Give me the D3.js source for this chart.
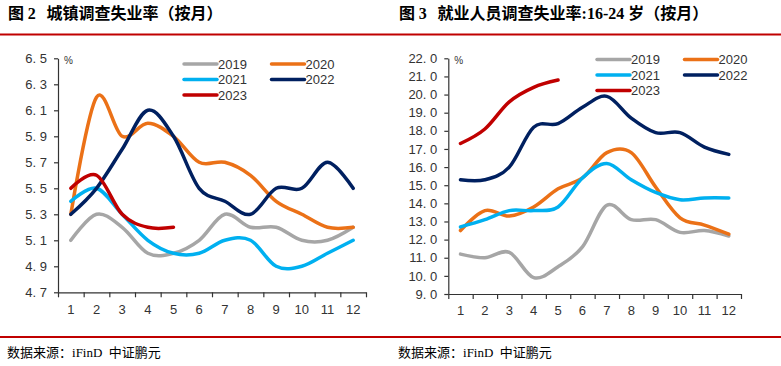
<!DOCTYPE html>
<html>
<head>
<meta charset="utf-8">
<script src="https://cdn.jsdelivr.net/npm/d3@7"></script>
<style>
  body { margin: 0; background: #fff; }
  svg { display: block; font-family: "Liberation Sans", Arial, sans-serif; }
  .pre { white-space: pre; }
</style>
</head>
<body>
<svg id="chart" width="781" height="366"></svg>
<script>
// months
const months = [1, 2, 3, 4, 5, 6, 7, 8, 9, 10, 11, 12];
const years = ["2019", "2020", "2021", "2022", "2023"];
const colors = ["#A6A6A6", "#EB7117", "#00B0F0", "#002060", "#C00000"];

// 图2 城镇调查失业率
const urban2019 = [5.1, 5.3, 5.2, 5.0, 5.0, 5.1, 5.3, 5.2, 5.2, 5.1, 5.1, 5.2];
const urban2020 = [5.3, 6.2, 5.9, 6.0, 5.9, 5.7, 5.7, 5.6, 5.4, 5.3, 5.2, 5.2];
const urban2021 = [5.4, 5.5, 5.3, 5.1, 5.0, 5.0, 5.1, 5.1, 4.9, 4.9, 5.0, 5.1];
const urban2022 = [5.3, 5.5, 5.8, 6.1, 5.9, 5.5, 5.4, 5.3, 5.5, 5.5, 5.7, 5.5];
const urban2023 = [5.5, 5.6, 5.3, 5.2, 5.2];
const urbanTicks = [4.7, 4.9, 5.1, 5.3, 5.5, 5.7, 5.9, 6.1, 6.3, 6.5];

// 图3 16-24岁
const youth2019 = [11.2, 11.0, 11.3, 9.9, 10.5, 11.6, 13.9, 13.1, 13.1, 12.4, 12.5, 12.2];
const youth2020 = [12.5, 13.6, 13.3, 13.8, 14.8, 15.4, 16.8, 16.8, 14.9, 13.2, 12.8, 12.3];
const youth2021 = [12.7, 13.1, 13.6, 13.6, 13.8, 15.4, 16.2, 15.3, 14.6, 14.2, 14.3, 14.3];
const youth2022 = [15.3, 15.3, 16.0, 18.2, 18.4, 19.3, 19.9, 18.7, 17.9, 17.9, 17.1, 16.7];
const youth2023 = [17.3, 18.1, 19.6, 20.4, 20.8];
const youthTicks = [9, 10, 11, 12, 13, 14, 15, 16, 17, 18, 19, 20, 21, 22];

const svg = d3.select("#chart");

// red rules + titles
svg.append("line").attr("x1", 0).attr("x2", 781).attr("y1", 34.5).attr("y2", 34.5)
  .attr("stroke", "#C00000").attr("stroke-width", 2);
svg.append("line").attr("x1", 0).attr("x2", 781).attr("y1", 337).attr("y2", 337)
  .attr("stroke", "#C00000").attr("stroke-width", 2);

const addTitle = (x, parts) => {
  const t = svg.append("text").attr("class", "pre").attr("x", x).attr("y", 19)
    .attr("font-size", "16px").attr("font-weight", "bold").attr("fill", "#000");
  parts.forEach(p => {
    t.append("tspan")
      .attr("font-family", p.serif ? "'Liberation Serif', 'Times New Roman', serif" : "'Noto Sans CJK SC', sans-serif")
      .text(p.text);
  });
};
addTitle(8, [{ text: "图 " }, { text: "2", serif: true }, { text: "   城镇调查失业率（按月）" }]);
addTitle(399, [{ text: "图 " }, { text: "3", serif: true }, { text: "   就业人员调查失业率" },
  { text: ":16-24 ", serif: true }, { text: "岁（按月）" }]);

const addSource = x => {
  const t = svg.append("text").attr("class", "pre").attr("x", x).attr("y", 357)
    .attr("font-size", "13px").attr("fill", "#000");
  t.append("tspan").attr("font-family", "'Noto Sans CJK SC', sans-serif").text("数据来源：");
  t.append("tspan").attr("font-family", "'Liberation Serif', serif").text("iFinD  ");
  t.append("tspan").attr("font-family", "'Noto Sans CJK SC', sans-serif").text("中证鹏元");
};
addSource(7);
addSource(398);

const fmt = d => d3.format(".1f")(d).replace(".", ". ");

const drawPanel = (opts) => {
  const { left, right, top, bottom, domain, ticks, series, legendX, legendY } = opts;
  const g = svg.append("g");

  const x = d3.scaleBand().domain(months).range([left, right]).padding(0);
  const xEdge = d3.scaleLinear().domain([0, 12]).range([left, right]);
  const y = d3.scaleLinear().domain(domain).range([bottom, top]);

  // y axis
  const yAxis = g.append("g").attr("transform", `translate(${left},0)`)
    .call(d3.axisLeft(y).tickValues(ticks).tickFormat(fmt).tickSize(4).tickSizeOuter(0).tickPadding(7));
  yAxis.selectAll("text").attr("font-size", "13px").attr("fill", "#333");
  yAxis.selectAll("path, line").attr("stroke", "#333").attr("stroke-width", 1.2);

  // x axis: tick marks at band edges, labels at band centers
  const xTicks = g.append("g").attr("transform", `translate(0,${bottom})`)
    .call(d3.axisBottom(xEdge).tickValues(d3.range(0, 13)).tickFormat("").tickSize(5).tickSizeOuter(0));
  xTicks.selectAll("path, line").attr("stroke", "#333").attr("stroke-width", 1.2);
  const xLabels = g.append("g").attr("transform", `translate(0,${bottom})`)
    .call(d3.axisBottom(x).tickSize(0).tickPadding(12));
  xLabels.select(".domain").remove();
  xLabels.selectAll("text").attr("font-size", "13px").attr("fill", "#333");

  g.append("text").attr("x", left + 6).attr("y", top + 6)
    .attr("font-size", "10px").attr("fill", "#333").text("%");

  const line = d3.line()
    .x((d, i) => x(months[i]) + x.bandwidth() / 2)
    .y(d => y(d))
    .curve(d3.curveCardinal.tension(0));

  series.forEach((s, i) => {
    g.append("path").datum(s)
      .attr("d", line)
      .attr("fill", "none")
      .attr("stroke", colors[i])
      .attr("stroke-width", 3.5)
      .attr("stroke-linecap", "round")
      .attr("stroke-linejoin", "round");
  });

  // legend, 2 columns
  years.forEach((yr, i) => {
    const lx = legendX + (i % 2) * 87.5;
    const ly = legendY + Math.floor(i / 2) * 15.5;
    g.append("line").attr("x1", lx).attr("x2", lx + 33).attr("y1", ly).attr("y2", ly)
      .attr("stroke", colors[i]).attr("stroke-width", 3.5).attr("stroke-linecap", "round");
    g.append("text").attr("x", lx + 34).attr("y", ly).attr("dy", "0.35em")
      .attr("font-size", "13px").attr("fill", "#333").text(yr);
  });
};

drawPanel({
  left: 58, right: 366, top: 58.3, bottom: 292.3,
  domain: [4.7, 6.5], ticks: urbanTicks,
  series: [urban2019, urban2020, urban2021, urban2022, urban2023],
  legendX: 184, legendY: 64
});

drawPanel({
  left: 448.3, right: 741, top: 58.3, bottom: 294,
  domain: [9, 22], ticks: youthTicks,
  series: [youth2019, youth2020, youth2021, youth2022, youth2023],
  legendX: 597, legendY: 59.5
});
</script>
</body>
</html>
